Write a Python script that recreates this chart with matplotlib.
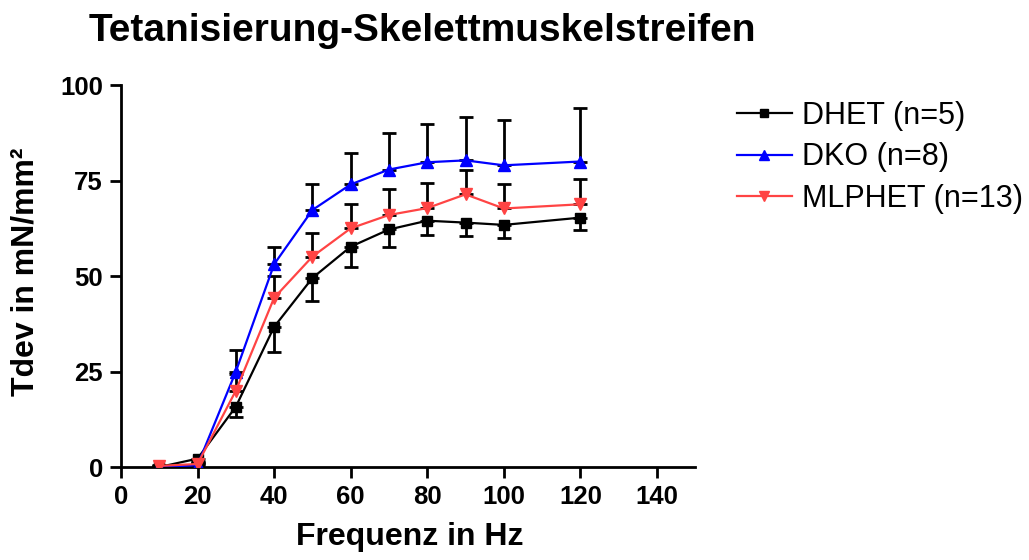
import matplotlib
matplotlib.use("Agg")
import matplotlib.pyplot as plt

plt.rcParams['font.family'] = ['Liberation Sans', 'DejaVu Sans']

freq = [10, 20, 30, 40, 50, 60, 70, 80, 90, 100, 120]

# DHET (n=5), error bars drawn downward
dhet = [0.0, 2.2, 15.8, 36.7, 49.5, 57.7, 62.2, 64.5, 64.0, 63.4, 65.3]
dhet_err = [0.3, 0.8, 2.8, 6.6, 6.1, 5.2, 4.7, 3.7, 3.4, 3.3, 3.2]

# DKO (n=8), error bars drawn upward
dko = [0.0, 0.5, 25.0, 53.1, 67.3, 74.0, 77.9, 79.8, 80.3, 79.0, 80.0]
dko_err = [0.2, 0.5, 5.6, 4.6, 6.7, 8.2, 9.6, 10.0, 11.3, 11.9, 14.0]

# MLPHET (n=13), error bars drawn upward
mlphet = [0.3, 0.8, 20.0, 44.3, 55.1, 62.5, 66.0, 67.8, 71.4, 67.7, 68.8]
mlphet_err = [0.2, 0.4, 4.3, 5.8, 6.1, 6.3, 6.7, 6.5, 6.3, 6.5, 6.5]

fig = plt.figure(figsize=(10.29, 5.6), dpi=100)
ax = fig.add_axes([0.1176, 0.166, 0.558, 0.682])

series = [
    ("DHET (n=5)", dhet, dhet_err, "black", "s", 7, "down"),
    ("DKO (n=8)", dko, dko_err, "#0000ff", "^", 9, "up"),
    ("MLPHET (n=13)", mlphet, mlphet_err, "#ff4444", "v", 9, "up"),
]

for label, y, err, col, mk, ms, side in series:
    zeros = [0] * len(err)
    yerr = [err, zeros] if side == "down" else [zeros, err]
    ax.errorbar(freq, y, yerr=yerr, fmt="none", ecolor="black",
                elinewidth=2, capsize=5, capthick=2, zorder=2)
    ax.plot(freq, y, color=col, marker=mk, markersize=ms, lw=1.6,
            label=label, zorder=3)

ax.set_xlim(0, 150)
ax.set_ylim(0, 100)
ax.set_xticks(range(0, 150, 20))
ax.set_yticks([0, 25, 50, 75, 100])
ax.spines['top'].set_visible(False)
ax.spines['right'].set_visible(False)
for s in ['left', 'bottom']:
    ax.spines[s].set_linewidth(2)
ax.tick_params(width=2, length=8, labelsize=18.5, pad=5)
for t in ax.get_xticklabels() + ax.get_yticklabels():
    t.set_fontweight('bold')

ax.set_xlabel("Frequenz in Hz", fontsize=23, fontweight='bold', va='center')
ax.xaxis.set_label_coords(0.503, -0.183)
ax.set_ylabel("Tdev in mN/mm²", fontsize=23, fontweight='bold', va='center')
ax.yaxis.set_label_coords(-0.167, 0.51)
fig.text(0.4106, 0.944, "Tetanisierung-Skelettmuskelstreifen", ha='center',
         va='center', fontsize=28, fontweight='bold')

leg = ax.legend(loc='upper left', bbox_to_anchor=(0.716, 0.820),
                bbox_transform=fig.transFigure, borderaxespad=0, borderpad=0,
                frameon=False, fontsize=22, handlelength=1.8,
                handletextpad=0.33, labelspacing=0.38, markerscale=0.75)

fig.savefig("out.png", dpi=100)
